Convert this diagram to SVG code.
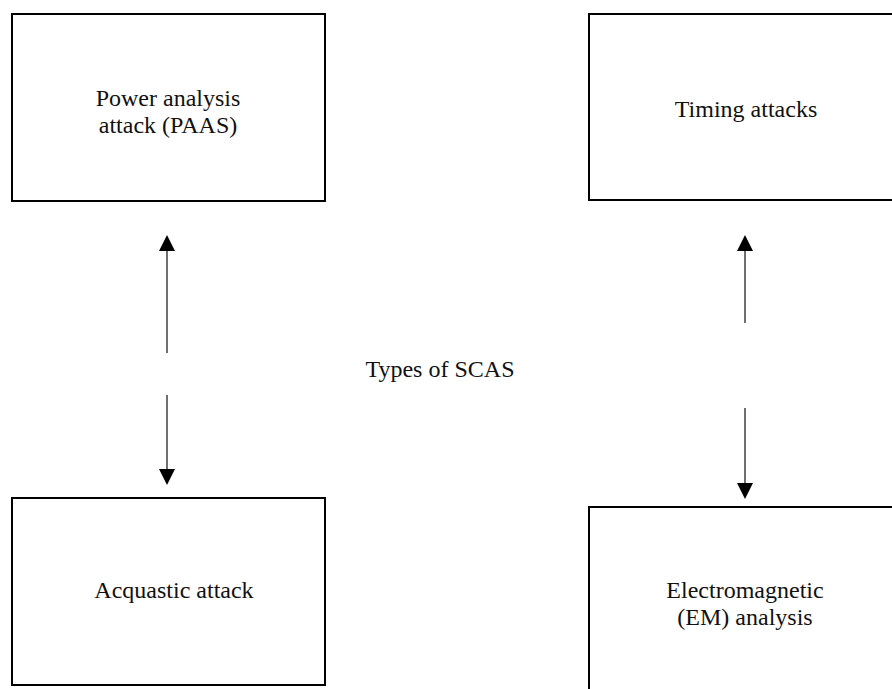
<svg xmlns="http://www.w3.org/2000/svg" width="892" height="689" viewBox="0 0 892 689">
  <style>
    .box { fill: #ffffff; stroke: #000000; stroke-width: 2; }
    .label { font-family: "Liberation Serif", "Times New Roman", serif; font-size: 24px; fill: #111111; text-anchor: middle; }
    .link { stroke: #222222; stroke-width: 1.3; fill: none; }
  </style>
  <defs>
    <marker id="arrowhead" viewBox="0 0 16 16" refX="0" refY="8" markerWidth="16" markerHeight="16" markerUnits="userSpaceOnUse" orient="auto">
      <path d="M0,0 L16,8 L0,16 Z" fill="#000000"/>
    </marker>
  </defs>
  <rect width="892" height="689" fill="#ffffff"/>

  <g id="power-analysis">
    <rect class="box" x="12" y="14" width="313" height="187"/>
    <text class="label" x="168" y="106">Power analysis</text>
    <text class="label" x="168" y="133">attack (PAAS)</text>
  </g>

  <g id="timing-attacks">
    <rect class="box" x="589" y="14" width="320" height="186"/>
    <text class="label" x="746" y="117">Timing attacks</text>
  </g>

  <g id="acoustic-attack">
    <rect class="box" x="12" y="498" width="313" height="187"/>
    <text class="label" x="174" y="598">Acquastic attack</text>
  </g>

  <g id="em-analysis">
    <rect class="box" x="589" y="507" width="320" height="200"/>
    <text class="label" x="745" y="598">Electromagnetic</text>
    <text class="label" x="745" y="625">(EM) analysis</text>
  </g>

  <g id="center-label">
    <text class="label" x="440" y="377">Types of SCAS</text>
  </g>

  <g id="connectors">
    <line class="link" x1="167" y1="353" x2="167" y2="251" marker-end="url(#arrowhead)"/>
    <line class="link" x1="167" y1="395" x2="167" y2="469" marker-end="url(#arrowhead)"/>
    <line class="link" x1="745" y1="323" x2="745" y2="251" marker-end="url(#arrowhead)"/>
    <line class="link" x1="745" y1="408" x2="745" y2="483" marker-end="url(#arrowhead)"/>
  </g>
</svg>
